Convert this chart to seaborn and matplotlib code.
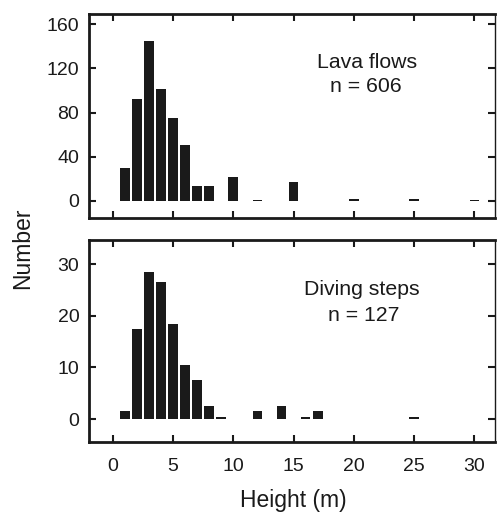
import matplotlib
matplotlib.use("Agg")
import matplotlib.pyplot as plt
import seaborn as sns
import pandas as pd

# Data
lava_height = [1, 2, 3, 4, 5, 6, 7, 8, 10, 12, 15, 20, 25, 30]
lava_count = [30, 92, 145, 101, 75, 51, 14, 14, 22, 1, 17, 1.5, 1.5, 1]
diving_height = [1, 2, 3, 4, 5, 6, 7, 8, 9, 12, 14, 16, 17, 25]
diving_count = [1.5, 17.5, 28.5, 26.5, 18.5, 10.5, 7.5, 2.5, 0.4, 1.5, 2.5, 0.4, 1.5, 0.4]
x_ticks = [0, 5, 10, 15, 20, 25, 30]
lava_yticks = [0, 40, 80, 120, 160]
diving_yticks = [0, 10, 20, 30]

sns.set_theme(style="white")
plt.rcParams['font.family'] = ['Liberation Sans', 'DejaVu Sans']

fig = plt.figure(figsize=(4.97, 5.12), dpi=100)
ax1 = fig.add_axes([89/497, 1-218.3/512, 406/497, 204.3/512])
ax2 = fig.add_axes([89/497, 1-442.3/512, 406/497, 202.3/512])

panels = [
    (ax1, lava_height, lava_count, lava_yticks, (-15.7, 169.3), "Lava flows", "n = 606",
     (0.686, 0.763), (0.681, 0.644)),
    (ax2, diving_height, diving_count, diving_yticks, (-4.5, 34.7), "Diving steps", "n = 127",
     (0.673, 0.753), (0.676, 0.629)),
]

for ax, hx, cnt, yt, ylim, t1, t2, p1, p2 in panels:
    df = pd.DataFrame({"h": hx, "n": cnt})
    sns.barplot(data=df, x="h", y="n", native_scale=True, color="#1a1a1a",
                saturation=1, width=0.8, ax=ax, edgecolor="none", linewidth=0)
    ax.set_xlim(-1.96, 31.7)
    ax.set_ylim(*ylim)
    ax.set_xticks(x_ticks)
    ax.set_yticks(yt)
    ax.set_xlabel("")
    ax.set_ylabel("")
    ax.tick_params(axis="both", direction="in", length=5, width=1.5, color="#1a1a1a",
                   top=True, right=True, bottom=True, left=True,
                   labelsize=14, labelcolor="#1a1a1a")
    ax.tick_params(axis="y", pad=7)
    ax.tick_params(axis="x", pad=11)
    for side, sp in ax.spines.items():
        sp.set_visible(True)
        sp.set_color("#1a1a1a")
        sp.set_linewidth(2.0 if side != "right" else 1.0)
    ax.text(p1[0], p1[1], t1, transform=ax.transAxes, ha="center", va="center",
            fontsize=15.3, color="#1a1a1a")
    ax.text(p2[0], p2[1], t2, transform=ax.transAxes, ha="center", va="center",
            fontsize=15.3, color="#1a1a1a")

ax1.tick_params(axis="x", labelbottom=False)

fig.text(23/497, 1-248/512, "Number", rotation=90, ha="center", va="center",
         fontsize=16.5, color="#1a1a1a")
fig.text(293/497, 1-500/512, "Height (m)", ha="center", va="center",
         fontsize=16.5, color="#1a1a1a")

fig.savefig("out.png", dpi=100, facecolor="white")
